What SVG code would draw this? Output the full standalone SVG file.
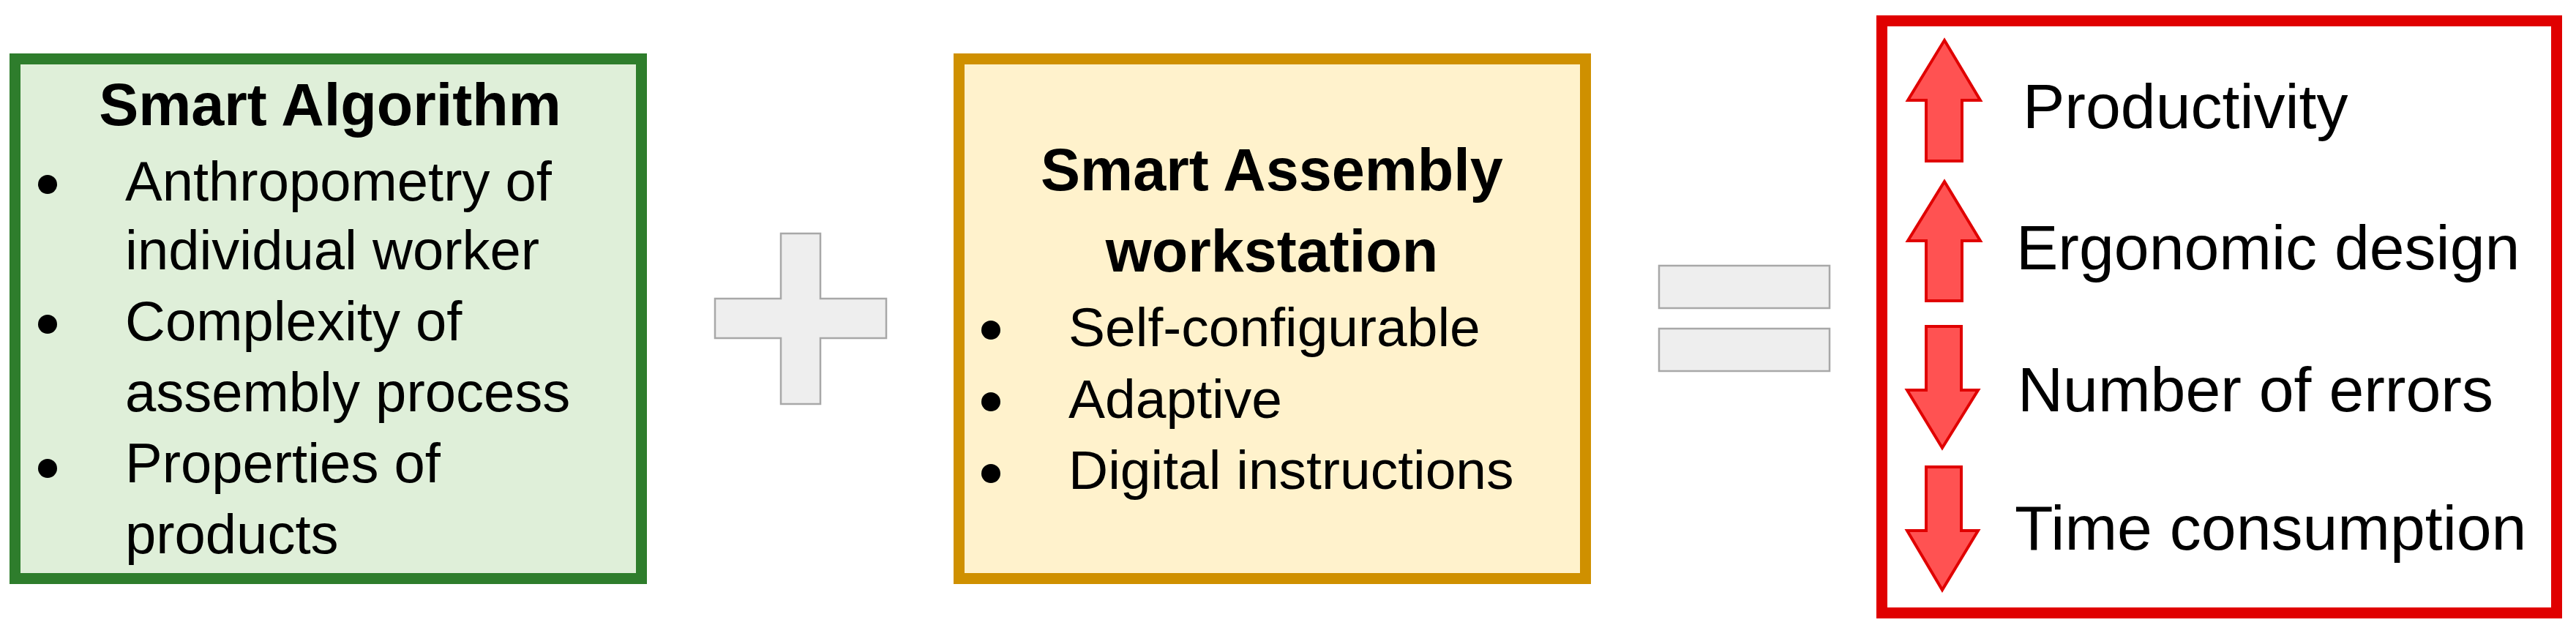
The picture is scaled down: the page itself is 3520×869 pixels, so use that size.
<svg xmlns="http://www.w3.org/2000/svg" width="3520" height="869" viewBox="0 0 3520 869">
<style>
text { font-family: "Liberation Sans", Arial, sans-serif; fill: #000; }
.head { font-weight: bold; font-size: 81px; text-anchor: middle; }
.item { font-size: 76px; }
.yitem { font-size: 75px; }
.ritem { font-size: 86px; }
.op { fill: #eeeeee; stroke: #a8a8a8; stroke-width: 2.5; }
.arrow { fill: #ff5252; stroke: #e00000; stroke-width: 4; stroke-linejoin: miter; }
.dot { fill: #000; }
</style>
<rect width="3520" height="869" fill="#ffffff"/>
<g id="smart-algorithm">
<rect x="20.5" y="80.5" width="856" height="710" fill="#dfefd9" stroke="#2e7d2c" stroke-width="15"/>
<text class="head" x="451" y="171">Smart Algorithm</text>
<circle class="dot" cx="65" cy="252" r="13"/>
<circle class="dot" cx="65" cy="443" r="13"/>
<circle class="dot" cx="65" cy="640" r="13"/>
<text class="item" x="171" y="274">Anthropometry of</text>
<text class="item" x="171" y="368">individual worker</text>
<text class="item" x="171" y="465">Complexity of</text>
<text class="item" x="171" y="562">assembly process</text>
<text class="item" x="171" y="659">Properties of</text>
<text class="item" x="171" y="756">products</text>
</g>
<g id="plus">
<path class="op" d="M1067,319 H1121 V408 H1211 V462 H1121 V552 H1067 V462 H977 V408 H1067 Z"/>
</g>
<g id="smart-workstation">
<rect x="1310.5" y="80.5" width="856" height="710" fill="#fff2cc" stroke="#cf9000" stroke-width="15"/>
<text class="head" x="1738" y="260">Smart Assembly</text>
<text class="head" x="1738" y="371">workstation</text>
<circle class="dot" cx="1354" cy="451" r="13"/>
<circle class="dot" cx="1354" cy="549" r="13"/>
<circle class="dot" cx="1354" cy="647" r="13"/>
<text class="yitem" x="1460" y="473">Self-configurable</text>
<text class="yitem" x="1460" y="571">Adaptive</text>
<text class="yitem" x="1460" y="668">Digital instructions</text>
</g>
<g id="equals">
<rect class="op" x="2267" y="363" width="233" height="58"/>
<rect class="op" x="2267" y="449" width="233" height="58"/>
</g>
<g id="outcomes">
<rect x="2571.5" y="28.5" width="922" height="809" fill="#ffffff" stroke="#e00000" stroke-width="15"/>
<path class="arrow" d="M2657,55 L2706,137 L2681,137 L2681,220 L2632,220 L2632,137 L2607,137 Z"/>
<path class="arrow" d="M2657,248 L2706,329 L2681,329 L2681,411 L2632,411 L2632,329 L2607,329 Z"/>
<path class="arrow" d="M2632,446 L2680,446 L2680,533 L2703,533 L2654,612 L2606,533 L2632,533 Z"/>
<path class="arrow" d="M2632,638 L2680,638 L2680,725 L2703,725 L2654,806 L2606,725 L2632,725 Z"/>
<text class="ritem" x="2764" y="175">Productivity</text>
<text class="ritem" x="2755" y="368">Ergonomic design</text>
<text class="ritem" x="2757" y="562">Number of errors</text>
<text class="ritem" x="2753" y="751">Time consumption</text>
</g>
</svg>
